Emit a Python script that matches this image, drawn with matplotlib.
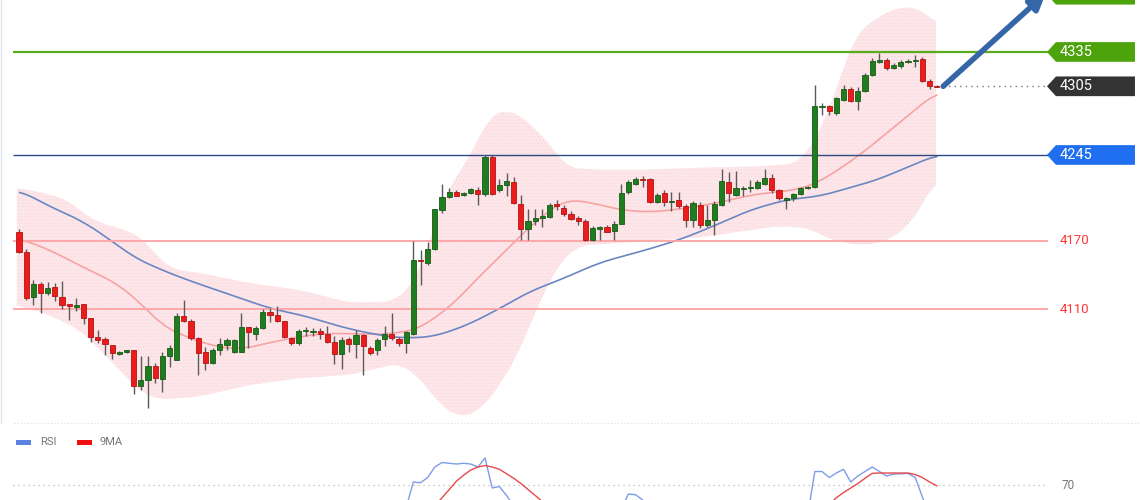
import matplotlib.pyplot as plt
import numpy as np
from matplotlib.patches import Polygon, Rectangle
from matplotlib.lines import Line2D

plt.rcParams['font.family'] = ['Roboto', 'DejaVu Sans']
plt.rcParams['hatch.linewidth'] = 0.3

# candles (open, high, low, close)
opens = [4178, 4160, 4121, 4132, 4124, 4130, 4121, 4115, 4112, 4115, 4103, 4086, 4084, 4079, 4071, 4073,
         4075, 4043, 4048, 4061, 4049, 4069, 4066, 4104, 4100, 4085, 4073, 4063, 4075, 4079, 4073, 4073,
         4095, 4089, 4094, 4108, 4105, 4100, 4085, 4081, 4091, 4090, 4091, 4089, 4082, 4071, 4084, 4080,
         4088, 4076, 4075, 4084, 4089, 4084, 4081, 4089, 4153, 4151, 4163, 4197, 4208, 4213, 4210, 4212,
         4214, 4211, 4243, 4214, 4219, 4221, 4202, 4180, 4187, 4190, 4191, 4202, 4199, 4193, 4190, 4187,
         4171, 4180, 4182, 4179, 4185, 4213, 4220, 4224, 4224, 4204, 4212, 4204, 4206, 4200, 4188, 4201,
         4184, 4188, 4201, 4221, 4210, 4215, 4216, 4216, 4220, 4225, 4214, 4206, 4207, 4211, 4216, 4217,
         4287, 4288, 4282, 4293, 4303, 4292, 4301, 4315, 4326, 4328, 4321, 4323, 4326, 4327, 4329, 4310, 4305]
highs = [4180, 4163, 4136, 4134, 4134, 4133, 4135, 4115, 4120, 4115, 4103, 4092, 4086, 4079, 4074, 4075,
         4075, 4069, 4069, 4063, 4073, 4079, 4107, 4118, 4102, 4086, 4077, 4076, 4085, 4085, 4084, 4107,
         4095, 4096, 4110, 4111, 4113, 4100, 4086, 4093, 4095, 4094, 4094, 4096, 4087, 4086, 4086, 4092,
         4089, 4078, 4085, 4096, 4107, 4086, 4091, 4170, 4162, 4169, 4198, 4220, 4216, 4214, 4213, 4216,
         4217, 4245, 4245, 4224, 4229, 4226, 4210, 4198, 4198, 4198, 4203, 4206, 4201, 4196, 4192, 4189,
         4183, 4183, 4184, 4187, 4220, 4223, 4226, 4227, 4225, 4212, 4214, 4213, 4213, 4202, 4205, 4204,
         4201, 4205, 4233, 4230, 4231, 4218, 4223, 4223, 4233, 4228, 4215, 4208, 4212, 4217, 4218, 4306,
         4290, 4289, 4296, 4306, 4304, 4304, 4317, 4330, 4334, 4330, 4325, 4328, 4329, 4332, 4331, 4311, 4306]
lows = [4159, 4118, 4114, 4107, 4123, 4117, 4110, 4101, 4109, 4097, 4082, 4081, 4070, 4067, 4070, 4072,
        4036, 4040, 4024, 4046, 4038, 4060, 4066, 4099, 4083, 4053, 4057, 4062, 4070, 4075, 4072, 4073,
        4076, 4083, 4093, 4099, 4099, 4085, 4079, 4079, 4087, 4087, 4084, 4081, 4062, 4058, 4073, 4068,
        4053, 4070, 4070, 4078, 4083, 4078, 4072, 4088, 4131, 4149, 4162, 4194, 4207, 4209, 4209, 4211,
        4201, 4209, 4210, 4213, 4209, 4202, 4171, 4171, 4184, 4182, 4190, 4197, 4192, 4188, 4184, 4170,
        4170, 4171, 4178, 4171, 4185, 4211, 4219, 4217, 4203, 4203, 4200, 4196, 4199, 4182, 4182, 4181,
        4182, 4175, 4200, 4204, 4209, 4209, 4213, 4215, 4219, 4212, 4206, 4198, 4205, 4210, 4215, 4216,
        4280, 4280, 4280, 4292, 4291, 4284, 4300, 4314, 4325, 4319, 4320, 4321, 4325, 4322, 4309, 4303, 4304]
closes = [4160, 4120, 4132, 4124, 4129, 4122, 4114, 4113, 4114, 4103, 4086, 4083, 4080, 4072, 4073, 4074,
          4043, 4048, 4061, 4050, 4069, 4076, 4104, 4100, 4085, 4072, 4063, 4075, 4080, 4083, 4083, 4095,
          4090, 4094, 4108, 4105, 4100, 4086, 4081, 4091, 4092, 4091, 4089, 4082, 4071, 4083, 4080, 4088,
          4078, 4072, 4083, 4089, 4085, 4081, 4090, 4153, 4152, 4163, 4198, 4208, 4213, 4209, 4212, 4215,
          4211, 4243, 4211, 4219, 4222, 4203, 4180, 4187, 4190, 4192, 4201, 4200, 4193, 4189, 4187, 4171,
          4181, 4182, 4178, 4185, 4212, 4221, 4224, 4223, 4204, 4210, 4204, 4205, 4200, 4188, 4203, 4184,
          4188, 4202, 4222, 4212, 4216, 4216, 4217, 4221, 4225, 4214, 4207, 4207, 4211, 4216, 4217, 4288,
          4287, 4283, 4295, 4303, 4292, 4301, 4315, 4327, 4328, 4321, 4324, 4326, 4327, 4328, 4310, 4305, 4304]

# moving averages and bollinger bands, sampled at candle positions
ma50_x = [0.1, 4.3, 8.9, 12.7, 15.9, 19.7, 23.4, 29.4, 35, 40.1, 44.8, 49, 53.1, 57.7, 62.4, 67.1, 71.3,
          75.5, 81, 88, 92.6, 97.3, 102, 107.1, 111.7, 119.6, 128]
ma50_y = [4214, 4200, 4187, 4171, 4156, 4145, 4136, 4123, 4111, 4104, 4095, 4089, 4085, 4086, 4096, 4111,
          4126, 4136, 4151, 4163, 4172, 4184, 4197, 4206, 4209, 4223, 4245]
ma20_x = [0.1, 4.3, 8.9, 13.6, 16.9, 20.1, 23.4, 27.1, 30.8, 36.4, 42, 45.7, 50.3, 55.5, 60.1, 64.7, 68.5,
          70.8, 75.5, 76.9, 80.1, 83.8, 88, 92.6, 97.3, 102, 108.9, 112.1, 117.3, 128]
ma20_y = [4172, 4162, 4147, 4133, 4116, 4095, 4086, 4078, 4075, 4083, 4089, 4089, 4088, 4092, 4112, 4142,
          4165, 4180, 4204, 4206, 4203, 4197, 4195, 4198, 4203, 4210, 4215, 4223, 4245, 4300]
upper_x = [-0.3, 2, 6.7, 10.3, 15.9, 17.8, 19.2, 21.5, 25.2, 32.2, 39.2, 46.2, 52.4, 55, 56.9, 59.1, 63.3,
           65.7, 67.8, 70, 72, 73.6, 76.4, 81, 86.6, 95, 103.3, 108.9, 112.1, 116.8, 121.5, 125.2, 127.9]
upper_y = [4216, 4214, 4206, 4188, 4177, 4169, 4156, 4145, 4142, 4133, 4127, 4116, 4117, 4133, 4162, 4206,
           4249, 4280, 4284, 4280, 4267, 4258, 4234, 4232, 4232, 4234, 4235, 4238, 4270, 4352, 4372, 4375, 4360]
lower_x = [-0.3, 4.3, 8.5, 12.7, 16.9, 19.7, 25.2, 32.2, 39.2, 46.2, 53.1, 55.9, 58.7, 61.5, 64.3, 67.1,
           69.9, 72.7, 75.5, 78.2, 83.8, 95, 106.1, 110.3, 113.1, 117.3, 120.8, 124.3, 127.9]
lower_y = [4114, 4105, 4092, 4066, 4038, 4031, 4034, 4044, 4050, 4053, 4063, 4050, 4027, 4015, 4022, 4044,
           4075, 4118, 4152, 4166, 4168, 4173, 4183, 4181, 4171, 4166, 4169, 4184, 4223]

# RSI panel
rsi_seg1 = (list(range(54, 70)), [55, 72, 71.5, 75, 82, 85, 84.5, 84, 84.5, 84, 82, 88, 68, 69, 63, 56])
rsi_seg2 = (list(range(84, 89)), [54, 64, 63.5, 60, 50])
rsi_seg3 = (list(range(110, 128)), [50, 79, 79, 75, 78, 80.5, 72, 76, 79, 82, 79, 76, 77.3, 77.5, 77.7, 75, 62, 50])
ma9_seg1 = (list(range(58, 75)), [56, 61.5, 67, 72.5, 76.5, 80, 82, 83, 82, 80.5, 77.5, 74.5, 71, 67, 63, 59, 55])
ma9_seg2 = (list(range(113, 129)), [57, 61.5, 65, 68, 71, 74.5, 77.8, 78, 78, 78, 78, 78, 77, 75, 72, 69.5])

levels = [4335, 4305, 4245, 4170, 4110]
target = 4385
last_price = 4305


def smooth_path(px, py, n=500, k=15):
    # densify the read points and round the corners a little for drawing
    xs = np.linspace(px[0], px[-1], n)
    ys = np.interp(xs, px, py)
    pad = np.pad(ys, k, mode='edge')
    ys = np.convolve(pad, np.ones(2 * k + 1) / (2 * k + 1), mode='same')[k:-k]
    return xs, ys


fig = plt.figure(figsize=(11.4, 5), dpi=100)
ax = fig.add_axes([0, 78 / 500, 1, 422 / 500])
ax.set_xlim(-2.65, 156.35)
ax.set_ylim(4011.7, 4380.4)
ax.axis('off')

# bollinger band
xs = np.linspace(-0.3, 127.9, 500)
_, up = smooth_path(upper_x, upper_y, 500, 6)
_, lo = smooth_path(lower_x, lower_y, 500, 6)
ax.fill_between(xs, lo, up, facecolor='#fde6e9', edgecolor='#f9d3d8', hatch='.....', linewidth=0, zorder=1)

mx, my = smooth_path(ma20_x, ma20_y, 500, 8)
ax.plot(mx, my, color='#f7a3a3', lw=1.2, zorder=2)
mx, my = smooth_path(ma50_x, ma50_y, 500, 8)
ax.plot(mx, my, color='#6a87c2', lw=1.2, zorder=2)

x_left = (13 - 19) / 7.17
x_right = (1048 - 19) / 7.17
ax.hlines(4335, x_left, x_right, color='#5aab1d', lw=1.6, zorder=3)
ax.hlines(4245, x_left, x_right, color='#2c4a86', lw=1.0, zorder=3)
ax.hlines([4170, 4110], x_left, x_right, color='#ffa3a3', lw=1.3, zorder=3)
ax.hlines(last_price, 128.9, x_right, color='#777777', lw=1, linestyles=(0, (1, 3)), zorder=3)

# candles
idx = np.arange(len(opens))
for i in idx:
    o, h, l, c = opens[i], highs[i], lows[i], closes[i]
    up_c = c >= o
    fc = '#1f7d1f' if up_c else '#ec1c1c'
    ec = '#155c15' if up_c else '#b51212'
    ax.vlines(i, l, h, color='#5a5a5a', lw=1, zorder=4)
    bot = min(o, c)
    hgt = max(abs(c - o), 1.2)
    ax.add_patch(Rectangle((i - 0.36, bot), 0.72, hgt, facecolor=fc, edgecolor=ec, lw=0.6, zorder=5))

# arrow
ax.annotate('', xy=(143.2, 4386), xytext=(128.9, last_price), annotation_clip=False,
            arrowprops=dict(arrowstyle='-|>,head_length=0.9,head_width=0.45', color='#3466a8', lw=4,
                            shrinkA=0, shrinkB=0), zorder=6)

# right side labels
def tag(price, text, color):
    x0 = (1047 - 19) / 7.17
    x1 = (1056 - 19) / 7.17
    x2 = (1135 - 19) / 7.17
    h = 8.6
    pts = [(x0, price), (x1, price + h), (x2, price + h), (x2, price - h), (x1, price - h)]
    ax.add_patch(Polygon(pts, closed=True, facecolor=color, edgecolor='none', zorder=7, clip_on=False))
    if text:
        ax.text((1060 - 19) / 7.17, price, text, color='white', fontsize=10.5, va='center', ha='left', zorder=8)

tag(target, '', '#4ca30c')
tag(4335, '4335', '#4ca30c')
tag(4305, '4305', '#333333')
tag(4245, '4245', '#1f6ff0')
for lv in [4170, 4110]:
    ax.text((1060 - 19) / 7.17, lv, str(lv), color='#ff3535', fontsize=9.5, va='center', ha='left')

# separator
fig.add_artist(Line2D([0.012, 1], [1 - 423 / 500] * 2, color='#d8dde6', lw=0.8, ls=(0, (1, 2))))
fig.add_artist(Line2D([0.001, 0.001], [1 - 423 / 500, 1], color='#dde6ee', lw=1))

# RSI panel
rax = fig.add_axes([0, 0, 1, 70 / 500])
rax.set_xlim(-2.65, 156.35)
rax.set_ylim(60, 106.7)
rax.axis('off')
rax.hlines(70, x_left, x_right, color='#bbbbbb', lw=0.9, linestyles=(0, (1, 3)))
rax.text((1062 - 19) / 7.17, 70, '70', color='#777777', fontsize=8.5, va='center', ha='left')
for seg in [rsi_seg1, rsi_seg2, rsi_seg3]:
    rax.plot(seg[0], seg[1], color='#7d9de6', lw=1)
for seg in [ma9_seg1, ma9_seg2]:
    rax.plot(seg[0], seg[1], color='#e9484c', lw=1)

ly = 1 - 442 / 500
fig.add_artist(Rectangle((16 / 1140, ly - 2.5 / 500), 15 / 1140, 5 / 500, transform=fig.transFigure,
                         facecolor='#5b84e0', edgecolor='none'))
fig.text(40 / 1140, ly, 'RSI', color='#777777', fontsize=8, va='center')
fig.add_artist(Rectangle((77 / 1140, ly - 2.5 / 500), 15 / 1140, 5 / 500, transform=fig.transFigure,
                         facecolor='#ee1111', edgecolor='none'))
fig.text(100 / 1140, ly, '9MA', color='#777777', fontsize=8, va='center')

fig.savefig('out.png', dpi=100)
